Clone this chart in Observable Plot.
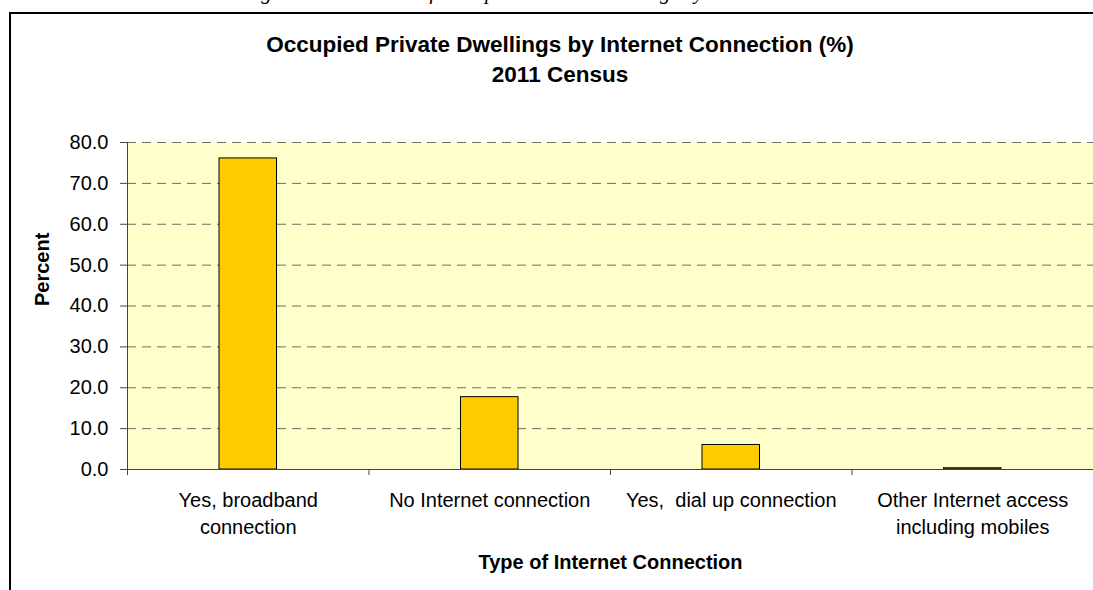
<!DOCTYPE html>
<html><head><meta charset="utf-8">
<script src="https://cdn.jsdelivr.net/npm/d3@7"></script>
<script src="https://cdn.jsdelivr.net/npm/@observablehq/plot@0.6"></script>
<style>
body{margin:0;background:#fff;}
#wrap{position:relative;width:1093px;height:590px;overflow:hidden;font-family:Arial,"Liberation Sans",sans-serif;}
#frame{position:absolute;left:9px;top:12px;width:1200px;height:700px;border:2px solid #000;box-sizing:border-box;}
#caption{position:absolute;top:-20px;left:0;width:1120px;text-align:center;font-family:"Liberation Serif",serif;font-style:italic;font-size:21px;white-space:nowrap;}
#title{position:absolute;top:30px;left:0;width:1120px;text-align:center;font-weight:bold;font-size:22.5px;line-height:30px;}
#chart{position:absolute;left:0;top:0;}
</style></head>
<body>
<div id="wrap">
  <div id="caption">Figure: Distribution of Occupied Private Dwellings by Internet Connection</div>
  <div id="frame"></div>
  <div id="title">Occupied Private Dwellings by Internet Connection (%)<br>2011 Census</div>
  <div id="chart"></div>
</div>
<script>
const categories = ["Yes, broadband\nconnection", "No Internet connection", "Yes,  dial up connection", "Other Internet access\nincluding mobiles"];
const values = [76.1, 17.7, 6.0, 0.3];
const yTicks = [0, 10, 20, 30, 40, 50, 60, 70, 80];
const xLabel = "Type of Internet Connection";
const yLabel = "Percent";

const data = categories.map((c, i) => ({c, i, v: values[i]}));
const bounds = d3.range(categories.length + 1);

const chart = Plot.plot({
  width: 1093, height: 590,
  marginLeft: 127, marginRight: 0, marginTop: 142, marginBottom: 121,
  x: {type: "linear", domain: [0, categories.length], axis: null},
  y: {domain: [0, 80], axis: null},
  style: {fontFamily: "Arial, 'Liberation Sans', sans-serif", fontSize: "20px", color: "#000", background: "transparent", overflow: "visible"},
  marks: [
    Plot.frame({fill: "#FFFFCC", stroke: null}),
    Plot.ruleY(yTicks, {stroke: "#6f6f60", strokeDasharray: "9,6", strokeWidth: 1}),
    Plot.rectY(data, {x1: "i", x2: d => d.i + 1, y: "v", fill: "#FFCC00", stroke: "#000", strokeWidth: 1, insetLeft: 92, insetRight: 92}),
    Plot.ruleX([0], {stroke: "#444"}),
    Plot.ruleY([0], {stroke: "#444"}),
    Plot.axisY({ticks: yTicks, tickFormat: d3.format(".1f"), tickSize: 7, tickPadding: 12, label: null, stroke: "#444", fontSize: 20}),
    Plot.axisX({ticks: bounds, tickFormat: () => "", tickSize: 6, label: null, stroke: "#444"}),
    Plot.text(data, {x: d => d.i + 0.5, y: 0, text: "c", lineAnchor: "top", dy: 19, lineHeight: 1.33, fontSize: 20}),
    Plot.text([yLabel], {frameAnchor: "left", rotate: -90, dx: -85, fontWeight: "bold", fontSize: 20}),
    Plot.text([xLabel], {frameAnchor: "bottom", dy: 99, fontWeight: "bold", fontSize: 20})
  ]
});
document.getElementById("chart").appendChild(chart);
</script>
</body></html>
